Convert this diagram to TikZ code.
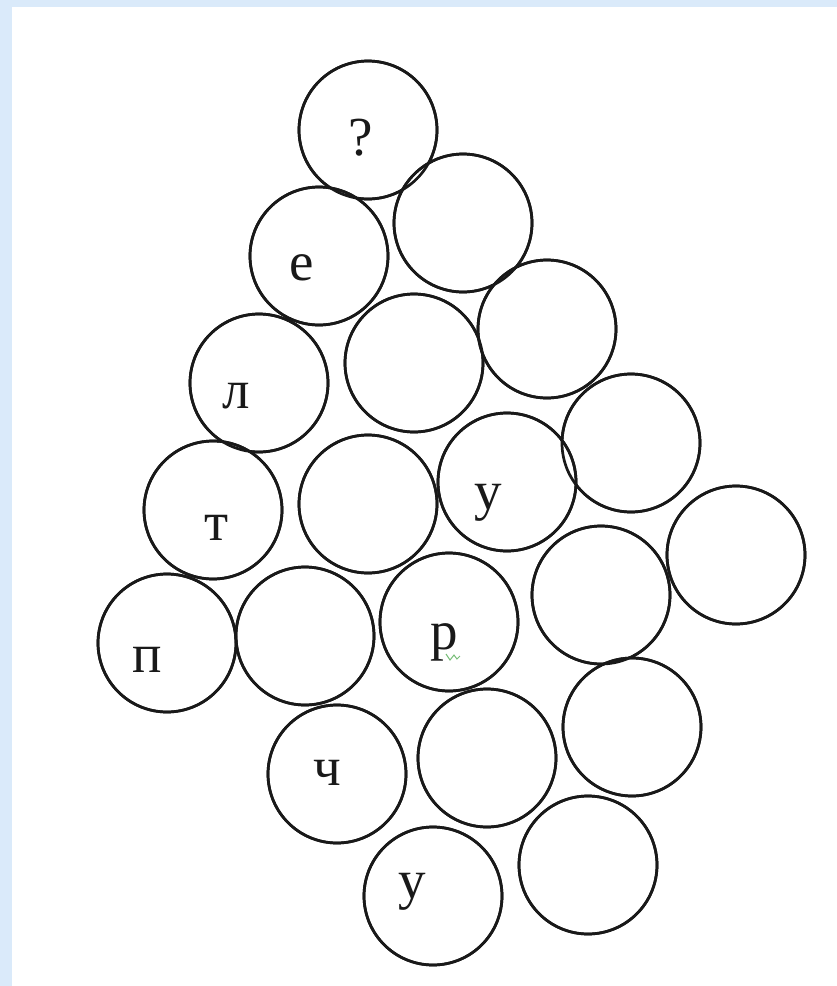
\documentclass[tikz,border=0pt]{standalone}
\usepackage{fontspec}
\newfontfamily\lettfont{Liberation Serif}
\definecolor{bgblue}{RGB}{218,234,250}
\definecolor{inkgray}{RGB}{25,25,25}
\definecolor{markgreen}{RGB}{120,190,120}
\begin{document}
\begin{tikzpicture}[x=1pt,y=-1pt,
  ball/.style={circle,draw=inkgray,line width=2.7pt,minimum size=138pt,inner sep=0pt,fill=white},
  letter/.style={anchor=base,inner sep=0pt,font=\lettfont\fontsize{55}{55}\selectfont,text=inkgray}]
\useasboundingbox (0,0) rectangle (837,986);
\fill[bgblue] (0,0) rectangle (837,986);
\fill[white] (12,7) rectangle (837,986);
% circles
\node[ball] (c1) at (368,130) {};
\node[ball] (c2) at (463,223) {};
\node[ball] (c3) at (319,256) {};
\node[ball] (c4) at (414,363) {};
\node[ball] (c5) at (547,329) {};
\node[ball] (c6) at (259,383) {};
\node[ball] (c7) at (631,443) {};
\node[ball] (c8) at (213,510) {};
\node[ball] (c9) at (368,504) {};
\node[ball] (c10) at (507,482) {};
\node[ball] (c11) at (736,555) {};
\node[ball] (c12) at (167,643) {};
\node[ball] (c13) at (305,636) {};
\node[ball] (c14) at (449,622) {};
\node[ball] (c15) at (601,595) {};
\node[ball] (c16) at (632,727) {};
\node[ball] (c17) at (337,774) {};
\node[ball] (c18) at (487,758) {};
\node[ball] (c19) at (433,896) {};
\node[ball] (c20) at (588,865) {};
% redraw outlines so overlaps show both circles
\foreach \n in {c1,c2,c3,c4,c5,c6,c7,c8,c9,c10,c11,c12,c13,c14,c15,c16,c17,c18,c19,c20}
  \draw[inkgray,line width=2.7pt] (\n.center) circle[radius=69pt];
% letters
\node[letter] (t1) at (361,155) {?};
\node[letter] (t3) at (302,280) {е};
\node[letter] (t6) at (236,408) {л};
\node[letter] (t8) at (217,540) {т};
\node[letter] (t10) at (488,509) {у};
\node[letter] (t12) at (147,672) {п};
\node[letter] (t14) at (444,649) {р};
\node[letter] (t17) at (327,785) {ч};
\node[letter] (t19) at (412,898) {у};
\draw[markgreen,line width=1pt] (446,654) -- (450,660) -- (454,655) -- (457,659) -- (460,656);
\end{tikzpicture}
\end{document}
